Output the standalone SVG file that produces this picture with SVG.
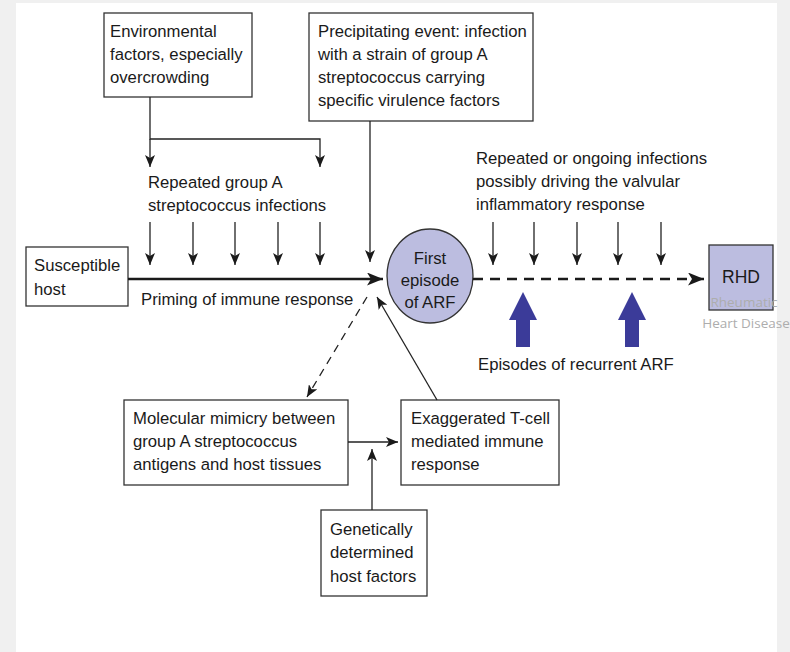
<svg xmlns="http://www.w3.org/2000/svg" width="790" height="652" viewBox="0 0 790 652">
<style>
.box{fill:#fff;stroke:#333;stroke-width:1.3}
.t{font-family:"Liberation Sans",Arial,sans-serif;font-size:16.7px;fill:#1a1a1a}
.c{stroke:#222;stroke-width:1.3;fill:none}
.big{stroke:#1a1a1a;stroke-width:2.6;fill:none}
.blue{fill:#3b3b99}
.note{font-family:"Open Sans","Noto Sans",sans-serif;font-size:13.5px;fill:#adadad}
</style>
<defs>
<marker id="ah" viewBox="0 0 12 10" refX="12" refY="5" markerWidth="12" markerHeight="10" markerUnits="userSpaceOnUse" orient="auto">
<path d="M0,0 L12,5 L0,10 L3,5 z" fill="#1a1a1a"/>
</marker>
<marker id="ahb" viewBox="0 0 16 13" refX="16" refY="6.5" markerWidth="16" markerHeight="13" markerUnits="userSpaceOnUse" orient="auto">
<path d="M0,0 L16,6.5 L0,13 L4,6.5 z" fill="#1a1a1a"/>
</marker>
</defs>
<rect x="0" y="0" width="790" height="652" fill="#f0f0f0"/>
<rect x="16" y="3" width="761" height="649" fill="#fff"/>

<g id="env">
<rect class="box" x="104" y="13" width="148" height="84"/>
<text class="t" x="110" y="37">Environmental</text>
<text class="t" x="110" y="60">factors, especially</text>
<text class="t" x="110" y="83">overcrowding</text>
</g>
<g id="precip">
<rect class="box" x="309" y="13" width="224" height="108"/>
<text class="t" x="318" y="37">Precipitating event: infection</text>
<text class="t" x="318" y="60">with a strain of group A</text>
<text class="t" x="318" y="83">streptococcus carrying</text>
<text class="t" x="318" y="106">specific virulence factors</text>
</g>
<g id="repeated">
<text class="t" x="148" y="188">Repeated group A</text>
<text class="t" x="148" y="211">streptococcus infections</text>
</g>
<g id="ongoing">
<text class="t" x="476" y="164">Repeated or ongoing infections</text>
<text class="t" x="476" y="187">possibly driving the valvular</text>
<text class="t" x="476" y="210">inflammatory response</text>
</g>
<g id="host">
<rect class="box" x="26" y="247" width="102" height="59"/>
<text class="t" x="34" y="271">Susceptible</text>
<text class="t" x="34" y="295">host</text>
</g>
<g id="priming">
<text class="t" x="141" y="305">Priming of immune response</text>
</g>
<g id="arf">
<ellipse cx="430" cy="276" rx="43" ry="47" fill="#bcbde0" stroke="#333" stroke-width="1.3"/>
<text class="t" x="430" y="264" text-anchor="middle">First</text>
<text class="t" x="430" y="286" text-anchor="middle">episode</text>
<text class="t" x="430" y="308" text-anchor="middle">of ARF</text>
</g>
<g id="rhd">
<rect x="709" y="245" width="64" height="65" fill="#bcbde0" stroke="#333" stroke-width="1.3"/>
<text class="t" x="741" y="283" text-anchor="middle" style="font-size:17.5px">RHD</text>
<text class="note" x="744" y="307" text-anchor="middle">Rheumatic</text>
<text class="note" x="746" y="328" text-anchor="middle">Heart Disease</text>
</g>
<g id="recurrent">
<path class="blue" d="M523,292 L537,320 L530,320 L530,347 L516,347 L516,320 L509,320 z"/>
<path class="blue" d="M632,292 L646,320 L639,320 L639,347 L625,347 L625,320 L618,320 z"/>
<text class="t" x="478" y="370">Episodes of recurrent ARF</text>
</g>
<g id="mimicry">
<rect class="box" x="124" y="400" width="224" height="85"/>
<text class="t" x="133" y="424">Molecular mimicry between</text>
<text class="t" x="133" y="447">group A streptococcus</text>
<text class="t" x="133" y="470">antigens and host tissues</text>
</g>
<g id="tcell">
<rect class="box" x="401" y="400" width="158" height="85"/>
<text class="t" x="411" y="424">Exaggerated T-cell</text>
<text class="t" x="411" y="447">mediated immune</text>
<text class="t" x="411" y="470">response</text>
</g>
<g id="genetic">
<rect class="box" x="321" y="510" width="106" height="86"/>
<text class="t" x="330" y="535">Genetically</text>
<text class="t" x="330" y="558">determined</text>
<text class="t" x="330" y="582">host factors</text>
</g>

<g id="connectors">
<path class="c" d="M150,97 V139 H320 V167" marker-end="url(#ah)"/>
<path class="c" d="M150,139 V167" marker-end="url(#ah)"/>
<path class="c" d="M150,222 V265" marker-end="url(#ah)"/>
<path class="c" d="M193,222 V265" marker-end="url(#ah)"/>
<path class="c" d="M235,222 V265" marker-end="url(#ah)"/>
<path class="c" d="M278,222 V265" marker-end="url(#ah)"/>
<path class="c" d="M320,222 V265" marker-end="url(#ah)"/>
<path class="c" d="M370,121 V262" marker-end="url(#ah)"/>
<path class="big" d="M128,279 H383" marker-end="url(#ahb)"/>
<path class="big" d="M473,279 H704" stroke-dasharray="10 7" marker-end="url(#ahb)"/>
<path class="c" d="M493,222 V265" marker-end="url(#ah)"/>
<path class="c" d="M534,222 V265" marker-end="url(#ah)"/>
<path class="c" d="M577,222 V265" marker-end="url(#ah)"/>
<path class="c" d="M618,222 V265" marker-end="url(#ah)"/>
<path class="c" d="M661,222 V265" marker-end="url(#ah)"/>
<path class="c" d="M367,297 L307,397" stroke-dasharray="8 6" marker-end="url(#ah)"/>
<path class="c" d="M437,400 L377,297" marker-end="url(#ah)"/>
<path class="c" d="M348,442 H398" marker-end="url(#ah)"/>
<path class="c" d="M372,510 V449" marker-end="url(#ah)"/>
</g>
</svg>
